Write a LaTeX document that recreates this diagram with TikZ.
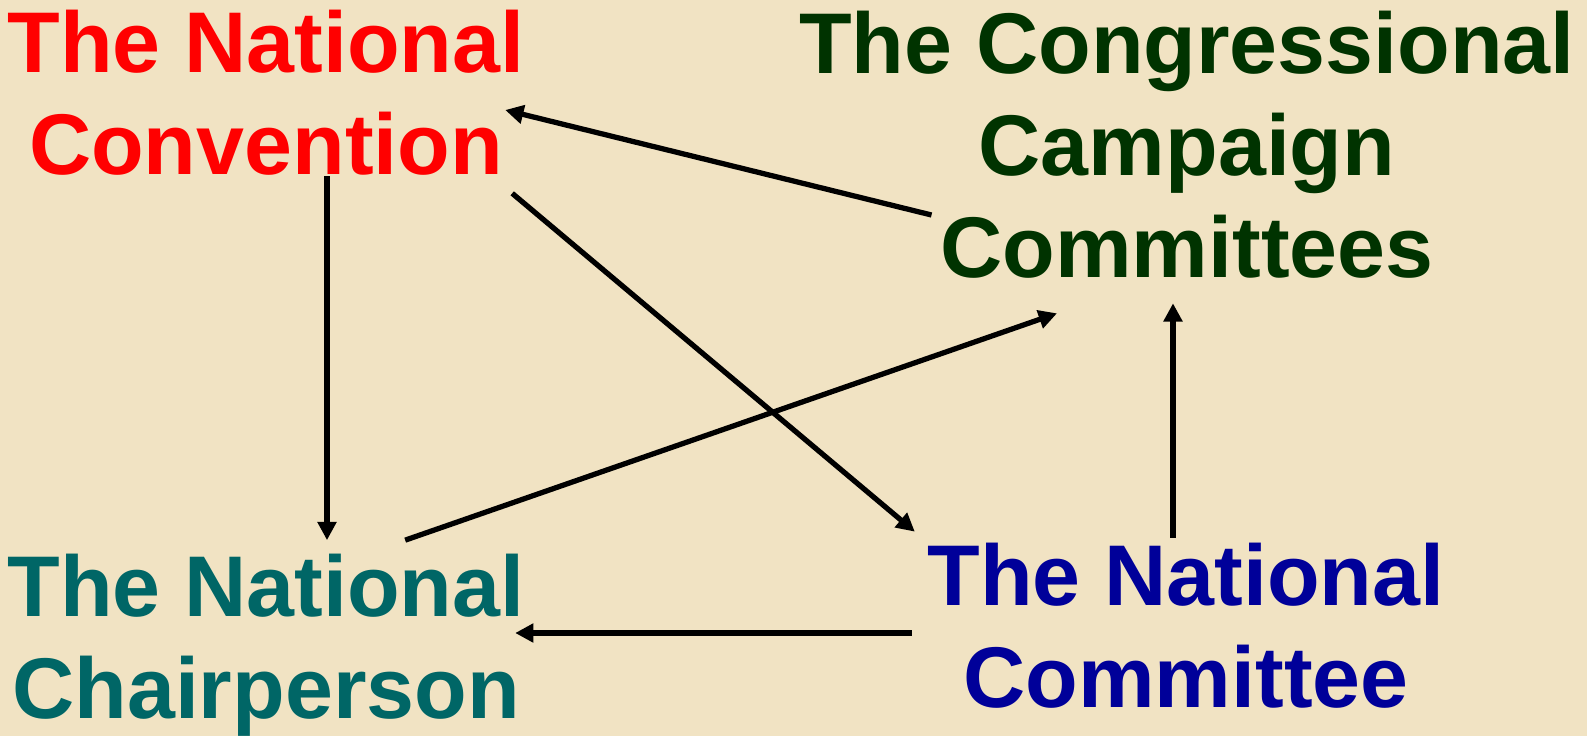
\documentclass[tikz,border=0pt]{standalone}
\usepackage{fontspec}
\setmainfont{Liberation Sans}
\usetikzlibrary{arrows.meta,calc}

\definecolor{parchment}{RGB}{241,227,195}
\definecolor{convred}{RGB}{255,0,0}
\definecolor{cccgreen}{RGB}{0,51,0}
\definecolor{chairteal}{RGB}{0,102,102}
\definecolor{comblue}{RGB}{0,0,153}

\tikzset{
	party/.style={inner sep=0pt, align=center, font=\fontsize{24.5}{29}\selectfont\bfseries},
	link/.style={line width=1.5pt, -{Triangle[length=5.2pt,width=5.2pt]}}
}

\begin{document}
\begin{tikzpicture}[x=0.01cm, y=-0.01cm]
	\fill[parchment] (0,0) rectangle (1587,736);
	\useasboundingbox (0,0) rectangle (1587,736);

	\node[party, text=convred] (conv) at (266,93) {The National\\Convention};
	\node[party, text=cccgreen] (ccc) at (1187,145) {The Congressional\\Campaign\\Committees};
	\node[party, text=chairteal] (chair) at (266,645) {The National\\Chairperson};
	\node[party, text=comblue] (natcom) at (1186,626) {The National\\Committee};

	\draw[link] ($(ccc.west)+(133,70)$) -- ($(conv.east)+(-20,17)$);
	\draw[link] ($(conv.south east)+(-13,17)$) -- ($(natcom.north west)+(-12,-11)$);
	\draw[link] ($(conv.south)+(61,0)$) -- ($(chair.north)+(61,-13)$);
	\draw[link] ($(chair.north east)+(-120,-13)$) -- ($(ccc.south)+(-130,34)$);
	\draw[link] ($(natcom.north)+(-13,-5)$) -- ($(ccc.south)+(-14,24)$);
	\draw[link] ($(natcom.west)+(-15,7)$) -- ($(chair.east)+(-10,-12)$);
\end{tikzpicture}
\end{document}
